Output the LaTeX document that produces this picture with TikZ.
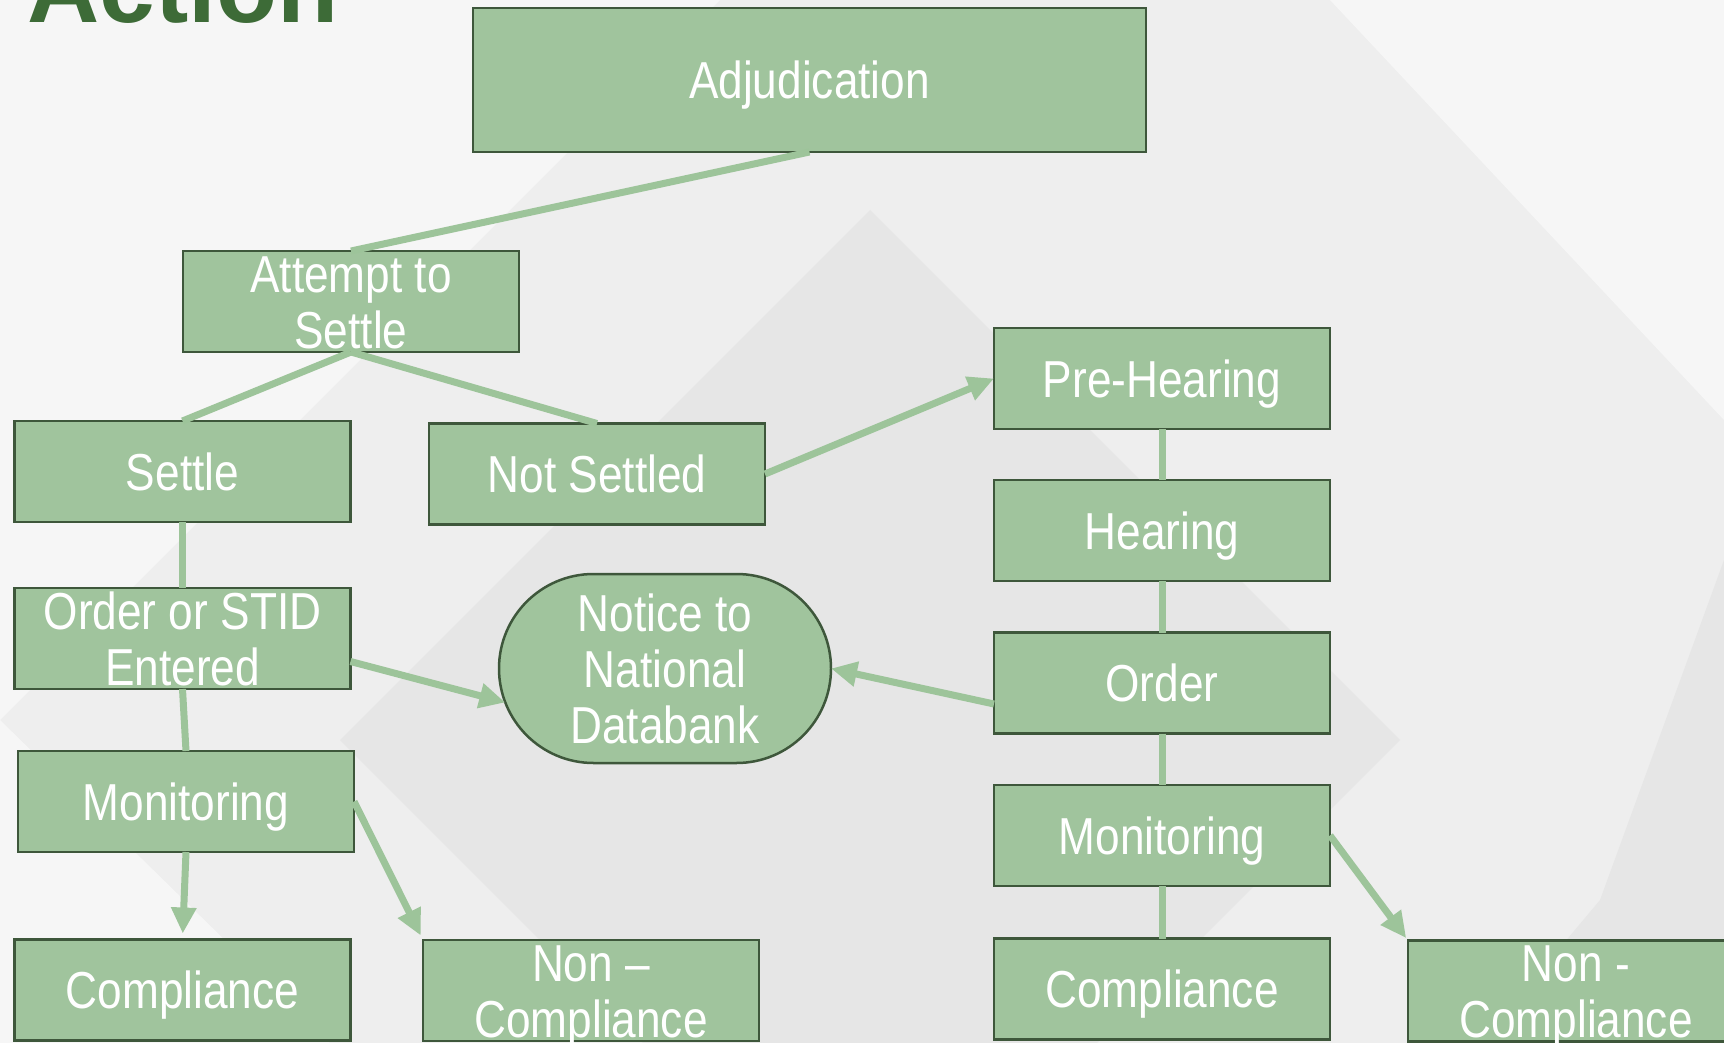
\documentclass[tikz,border=0pt]{standalone}
\usepackage{fontspec}
\usetikzlibrary{shapes.misc,arrows.meta}
\newfontfamily\boxfont[FakeStretch=0.85]{Liberation Sans}
\newfontfamily\titlefont{Liberation Sans}
\definecolor{boxfill}{HTML}{A0C49D}
\definecolor{boxline}{HTML}{3E573B}
\definecolor{conn}{HTML}{9DC49A}
\definecolor{titlegreen}{HTML}{3D6B37}
\definecolor{bgbase}{HTML}{EEEEEE}
\definecolor{bglight}{HTML}{F6F6F6}
\definecolor{bgdark}{HTML}{E6E6E6}
\begin{document}
\begin{tikzpicture}[x=1pt,y=-1pt,
  box/.style={draw=boxline, line width=2.5pt, fill=boxfill, minimum width=336pt, minimum height=101pt, inner sep=0pt, outer sep=0pt},
  txt/.style={text=white, font=\boxfont\fontsize{52}{56}\selectfont, align=center, inner sep=0pt, text height=37pt, text depth=0pt},
  txttwo/.style={txt, text height=93pt},
  txtthree/.style={txt, text height=149pt},
  link/.style={draw=conn, line width=7pt},
  arr/.style={link, -{Triangle[length=26pt,width=24pt]}}
]
\useasboundingbox (0,0) rectangle (1724,1043);
% background
\fill[bgbase] (0,0) rectangle (1724,1043);
\fill[bglight] (0,0) -- (720,0) -- (0,720) -- cycle;
\fill[bgdark] (870,210) -- (1400,740) -- (1097,1043) -- (643,1043) -- (340,740) -- cycle;
\fill[bglight] (1330,0) -- (1724,0) -- (1724,420) -- cycle;
\fill[bgdark] (1724,560) -- (1724,1043) -- (1480,1043) -- (1600,900) -- cycle;
\fill[bglight] (0,720) -- (330,1043) -- (0,1043) -- cycle;

% title
\node[anchor=base west, inner sep=0pt, text=titlegreen, font=\titlefont\bfseries\fontsize{100}{110}\selectfont] (title) at (27,23) {Action};

% boxes
\node[box, minimum width=673pt, minimum height=144pt] (adj) at (809.5,80) {};
\node[box] (att) at (351,301.5) {};
\node[box] (settle) at (182.5,471.5) {};
\node[box] (notset) at (597,474) {};
\node[box] (pre) at (1162,378.5) {};
\node[box] (hear) at (1162,530.5) {};
\node[box] (order) at (1162,683) {};
\node[box] (monR) at (1162,835.5) {};
\node[box] (compR) at (1162,989) {};
\node[box] (noncR) at (1576,991) {};
\node[box] (ostid) at (182.5,638.5) {};
\node[box] (monL) at (186,801.5) {};
\node[box] (compL) at (182.5,990) {};
\node[box] (noncL) at (591,990.5) {};
\node[box, rounded rectangle, minimum width=332pt, minimum height=189pt] (notice) at (665,668.5) {};

% texts
\node[txt] (adj-t) at (adj.center) {Adjudication};
\node[txttwo] (att-t) at (att.center) {Attempt to\\Settle};
\node[txt] (settle-t) at (settle.center) {Settle};
\node[txt] (notset-t) at (notset.center) {Not Settled};
\node[txt] (pre-t) at (pre.center) {Pre-Hearing};
\node[txt] (hear-t) at (hear.center) {Hearing};
\node[txt] (order-t) at (order.center) {Order};
\node[txt] (monR-t) at (monR.center) {Monitoring};
\node[txt] (compR-t) at (compR.center) {Compliance};
\node[txttwo] (noncR-t) at (noncR.center) {Non -\\Compliance};
\node[txttwo] (ostid-t) at (ostid.center) {Order or STID\\Entered};
\node[txt] (monL-t) at (monL.center) {Monitoring};
\node[txt] (compL-t) at (compL.center) {Compliance};
\node[txttwo] (noncL-t) at (noncL.center) {Non –\\Compliance};
\node[txtthree] (notice-t) at (notice.center) {Notice to\\National\\Databank};

% connectors
\draw[link] (adj.south) -- (att.north);
\draw[link] (att.south) -- (settle.north);
\draw[link] (att.south) -- (notset.north);
\draw[arr] (notset.east) -- (pre.west);
\draw[link] (pre.south) -- (hear.north);
\draw[link] (hear.south) -- (order.north);
\draw[link] (order.south) -- (monR.north);
\draw[link] (monR.south) -- (compR.north);
\draw[arr] ([yshift=-21pt]order.west) -- (notice.east);
\draw[link] (settle.south) -- (ostid.north);
\draw[arr] ([yshift=-23pt]ostid.east) -- (notice.192);
\draw[link] (ostid.south) -- (monL.north);
\draw[arr, shorten >=6pt] (monL.south) -- (compL.north);
\draw[arr, shorten >=5pt] (monL.east) -- (noncL.north west);
\draw[arr, shorten >=3pt] (monR.east) -- (noncR.north west);
\end{tikzpicture}
\end{document}
